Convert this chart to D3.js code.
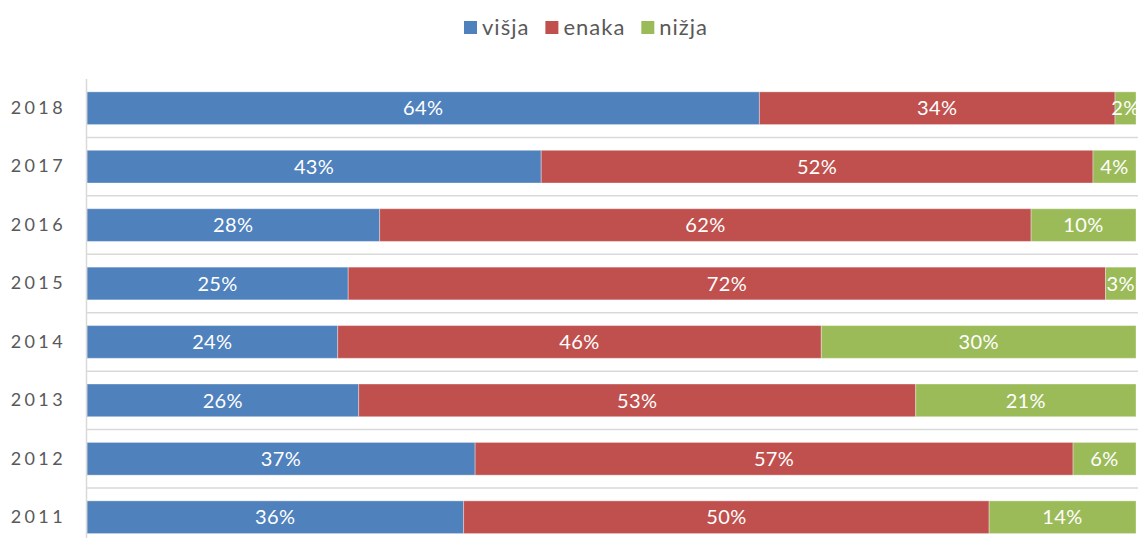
<!DOCTYPE html>
<html>
<head>
<meta charset="UTF-8">
<title>višja / enaka / nižja</title>
<script src="https://cdn.jsdelivr.net/npm/d3@7"></script>
<style>
	body { margin: 0; background: #fff; }
	text { font-family: Lato, "Open Sans", sans-serif; }
</style>
</head>
<body>
<div id="chart"></div>
<script>
// categories, top to bottom
var years = ["2018", "2017", "2016", "2015", "2014", "2013", "2012", "2011"];
var seriesNames = ["višja", "enaka", "nižja"];
// shares in %
var visja = [64.1, 43.3, 27.9, 24.9, 23.9, 25.9, 37.0, 35.9];
var enaka = [33.9, 52.6, 62.1, 72.2, 46.1, 53.1, 57.0, 50.1];
var nizja = [2.0, 4.1, 10.0, 2.9, 30.0, 21.0, 6.0, 14.0];
// data labels as printed on the bars
var visjaLabels = ["64%", "43%", "28%", "25%", "24%", "26%", "37%", "36%"];
var enakaLabels = ["34%", "52%", "62%", "72%", "46%", "53%", "57%", "50%"];
var nizjaLabels = ["2%", "4%", "10%", "3%", "30%", "21%", "6%", "14%"];

var colors = ["#4f81bd", "#c0504d", "#9bbb59"];

var W = 1138, H = 538;
var svg = d3.select("#chart").append("svg")
	.attr("width", W).attr("height", H);

var x = d3.scaleLinear().domain([0, 100]).range([87, 1136]);
var step = 58.43;
var y = d3.scaleBand()
	.domain(years)
	.range([79, 79 + step * years.length])
	.paddingInner(0.44)
	.paddingOuter(0.22);

// gridlines between categories
var bounds = d3.range(1, years.length + 1).map(function(k){ return 79 + k * step; });
svg.append("g").selectAll("line").data(bounds).enter().append("line")
	.attr("x1", 87).attr("x2", W)
	.attr("y1", function(d){ return d; }).attr("y2", function(d){ return d; })
	.attr("stroke", "#d9d9d9").attr("stroke-width", 1.5);

// rows: one stacked set per year
var rows = years.map(function(yr, i){
	return {
		year: yr,
		vals: [visja[i], enaka[i], nizja[i]],
		labels: [visjaLabels[i], enakaLabels[i], nizjaLabels[i]]
	};
});

var segs = [];
rows.forEach(function(r){
	var acc = 0;
	r.vals.forEach(function(v, j){
		segs.push({ year: r.year, x0: acc, x1: acc + v, s: j, label: r.labels[j] });
		acc += v;
	});
});

var g = svg.append("g");
g.selectAll("rect").data(segs).enter().append("rect")
	.attr("x", function(d){ return x(d.x0); })
	.attr("y", function(d){ return y(d.year); })
	.attr("width", function(d){ return x(d.x1) - x(d.x0); })
	.attr("height", y.bandwidth())
	.attr("fill", function(d){ return colors[d.s]; })
	.attr("stroke", "rgba(255,255,255,0.35)")
	.attr("stroke-width", 1);

g.selectAll("text").data(segs).enter().append("text")
	.attr("x", function(d){ return (x(d.x0) + x(d.x1)) / 2; })
	.attr("y", function(d){ return y(d.year) + y.bandwidth() / 2; })
	.attr("dy", "0.36em")
	.attr("text-anchor", "middle")
	.attr("fill", "#fff")
	.attr("font-size", 20)
	.style("letter-spacing", "0.4px")
	.text(function(d){ return d.label; });

// category axis
var yAxis = d3.axisLeft(y).tickSize(0).tickPadding(20);
var ax = svg.append("g").attr("transform", "translate(86,0)").call(yAxis);
ax.select(".domain").remove();
ax.selectAll("text")
	.attr("font-family", "Lato, sans-serif")
	.attr("font-size", 18)
	.attr("fill", "#595959")
	.style("letter-spacing", "3.4px");
svg.append("line")
	.attr("x1", 86.5).attr("x2", 86.5)
	.attr("y1", 79).attr("y2", H)
	.attr("stroke", "#d9d9d9").attr("stroke-width", 1.5);

// legend
var legend = svg.append("g");
var lx = 464;
seriesNames.forEach(function(name, i){
	legend.append("rect")
		.attr("x", lx).attr("y", 21)
		.attr("width", 13).attr("height", 13)
		.attr("fill", colors[i]);
	var t = legend.append("text")
		.attr("x", lx + 18).attr("y", 27)
		.attr("dy", "0.35em")
		.attr("font-size", 22)
		.attr("fill", "#595959")
		.style("letter-spacing", "1px")
		.text(name);
	lx += 18 + t.node().getComputedTextLength() + 16;
});
</script>
</body>
</html>
